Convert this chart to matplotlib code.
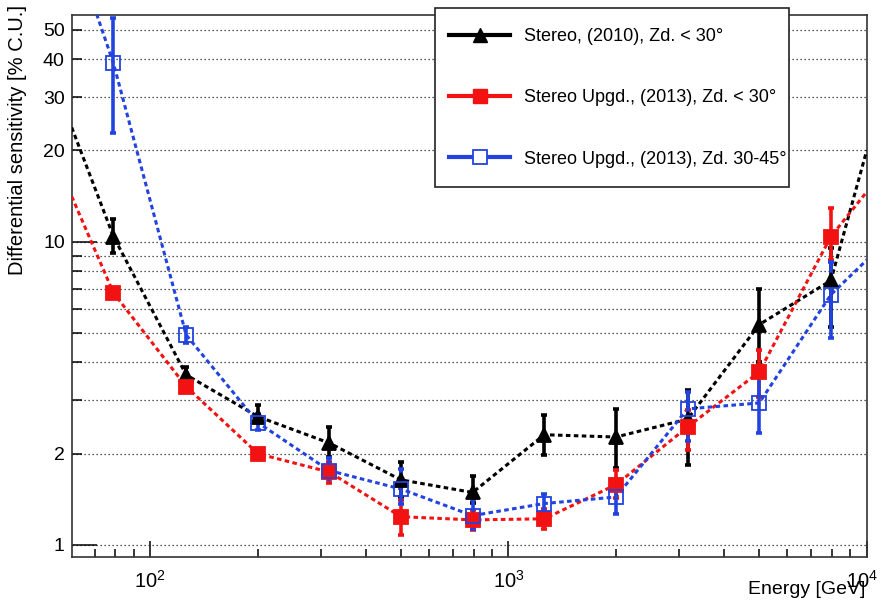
import matplotlib
matplotlib.use('Agg')
import matplotlib.pyplot as plt
from matplotlib.lines import Line2D
from matplotlib.patches import Rectangle
from matplotlib.transforms import ScaledTranslation
from matplotlib.ticker import FixedLocator, FuncFormatter, NullFormatter
import numpy as np

plt.rcParams['font.family'] = ['Liberation Sans', 'DejaVu Sans']
plt.rcParams['mathtext.fontset'] = 'custom'
plt.rcParams['mathtext.rm'] = 'Liberation Sans'
plt.rcParams['mathtext.it'] = 'Liberation Sans:italic'

# Centros de bin en energia [GeV]
energia = [79, 126, 200, 316, 501, 794, 1259, 1995, 3162, 5012, 7943]

# Stereo (2010), Zd. < 30
stereo_2010 = [10.4, 3.64, 2.65, 2.17, 1.64, 1.49, 2.31, 2.27, 2.6, 5.33, 7.45]
stereo_2010_min = [9.2, 3.46, 2.55, 1.95, 1.44, 1.38, 1.98, 1.79, 1.83, 4.0, 5.25]
stereo_2010_max = [11.9, 3.87, 2.9, 2.45, 1.88, 1.69, 2.69, 2.81, 3.25, 7.0, 9.5]

# Stereo Upgd. (2013), Zd. < 30
upgd_bajo = [6.78, 3.33, 2.0, 1.74, 1.24, 1.21, 1.22, 1.58, 2.45, 3.72, 10.4]
upgd_bajo_min = [6.6, 3.2, 1.95, 1.6, 1.08, 1.12, 1.13, 1.43, 2.06, 3.08, 8.7]
upgd_bajo_max = [7.0, 3.45, 2.05, 1.88, 1.41, 1.3, 1.31, 1.77, 2.79, 4.4, 12.9]

# Stereo Upgd. (2013), Zd. 30-45
upgd_medio = [38.7, 4.93, 2.53, 1.76, 1.53, 1.25, 1.37, 1.44, 2.81, 2.94, 6.69]
upgd_medio_min = [22.9, 4.64, 2.4, 1.65, 1.36, 1.13, 1.28, 1.27, 2.2, 2.34, 4.82]
upgd_medio_max = [54.5, 5.25, 2.7, 1.93, 1.78, 1.42, 1.47, 1.6, 3.2, 3.58, 8.6]

# Extremos de las curvas discontinuas (bordes del grafico)
xmin, xmax = 60.4, 1e4
ymin, ymax = 0.911, 55.9
extremos_2010 = (23.8, 20.0)
extremos_bajo = (14.1, 14.6)
extremos_medio = (98.0, 8.7)

etiquetas = ['Stereo, (2010), Zd. < 30\u00b0',
             'Stereo Upgd., (2013), Zd. < 30\u00b0',
             'Stereo Upgd., (2013), Zd. 30-45\u00b0']

ROJO = '#f21212'
AZUL = '#2243e0'


def dibujar_serie(ax, valores, vmin, vmax, extremos, color, marcador, relleno):
    x = np.array(energia, dtype=float)
    y = np.array(valores)
    yerr = [y - np.array(vmin), np.array(vmax) - y]
    # curva discontinua que une los puntos hasta los bordes
    xl = [xmin] + list(x) + [xmax]
    yl = [extremos[0]] + list(y) + [extremos[1]]
    ax.plot(xl, yl, ls=(0, (1.5, 1.1)), lw=2.2, color=color, zorder=3)
    ax.errorbar(x, y, yerr=yerr, fmt='none', ecolor=color, elinewidth=2.6,
                capsize=2, capthick=2.6, zorder=4)
    ax.plot(x, y, ls='none', marker=marcador, ms=9.8, color=color,
            mfc=relleno, mec=color, mew=1.3, zorder=5)


fig = plt.figure(figsize=(8.81, 6.06), dpi=100)
ax = fig.add_axes([0.0814, 0.0804, 0.9838 - 0.0814, 0.9752 - 0.0804])
ax.set_xscale('log')
ax.set_yscale('log')
ax.set_xlim(xmin, xmax)
ax.set_ylim(ymin, ymax)

dibujar_serie(ax, stereo_2010, stereo_2010_min, stereo_2010_max, extremos_2010, 'black', '^', 'black')
dibujar_serie(ax, upgd_bajo, upgd_bajo_min, upgd_bajo_max, extremos_bajo, ROJO, 's', ROJO)
dibujar_serie(ax, upgd_medio, upgd_medio_min, upgd_medio_max, extremos_medio, AZUL, 's', 'none')

# eje y: marcas estilo ROOT
ax.yaxis.set_major_locator(FixedLocator([1, 10]))
ax.yaxis.set_minor_locator(FixedLocator([2, 3, 4, 5, 6, 7, 8, 9, 20, 30, 40, 50]))
ax.yaxis.set_major_formatter(FuncFormatter(lambda v, p: '%g' % v))
ax.yaxis.set_minor_formatter(FuncFormatter(lambda v, p: '%g' % v if v in (2, 20, 30, 40, 50) else ''))
ax.tick_params(axis='y', which='major', direction='in', length=18, width=1.1, pad=5, labelsize=14)
ax.tick_params(axis='y', which='minor', direction='in', length=7, width=1.1, pad=5, labelsize=14)

# eje x
ax.xaxis.set_major_locator(FixedLocator([100, 1000, 10000]))
ax.xaxis.set_minor_locator(FixedLocator([70, 80, 90] + [k * 100 for k in range(2, 10)] + [k * 1000 for k in range(2, 10)]))
ax.xaxis.set_major_formatter(FuncFormatter(lambda v, p: '$10^{%d}$' % round(np.log10(v))))
ax.xaxis.set_minor_formatter(NullFormatter())
ax.tick_params(axis='x', which='major', direction='in', length=11.5, width=1.1, pad=9, labelsize=14.5)
ax.tick_params(axis='x', which='minor', direction='in', length=5.7, width=1.1)

# la etiqueta 10^4 queda pegada al borde derecho
fig.canvas.draw()
ultima = ax.xaxis.get_major_ticks()[-1].label1
ultima.set_transform(ultima.get_transform() + ScaledTranslation(-5 / 100, 0, fig.dpi_scale_trans))

ax.grid(axis='y', which='both', linestyle=(0, (1, 2.2)), color='#222222', lw=0.9)
ax.grid(axis='x', which='both', visible=False)
ax.set_axisbelow(True)
for lado in ax.spines.values():
    lado.set_linewidth(1.2)
    lado.set_color('#333333')

fig.text(18 / 881, 1 - 5 / 606, 'Differential sensitivity [% C.U.]', rotation=90,
         ha='center', va='top', fontsize=14.5)
fig.text(865 / 881, 1 - 590 / 606, 'Energy [GeV]', ha='right', va='center', fontsize=14)

# caja de la leyenda, por encima del marco
caja = Rectangle((435 / 881, 1 - 187 / 606), 354 / 881, 179 / 606, transform=fig.transFigure,
                 facecolor='white', edgecolor='#222222', lw=1.2, zorder=4)
fig.patches.append(caja)

manejadores = [
    Line2D([], [], color='black', lw=3, marker='^', ms=9.8, mfc='black'),
    Line2D([], [], color=ROJO, lw=3, marker='s', ms=9.8, mfc=ROJO),
    Line2D([], [], color=AZUL, lw=3, marker='s', ms=9.8, mfc='white', mec=AZUL, mew=1.3),
]
leyenda = fig.legend(manejadores, etiquetas, loc='center left',
                     bbox_to_anchor=(449 / 881, 1 - 98 / 606), fontsize=13,
                     handlelength=3.4, handletextpad=0.75, labelspacing=2.45,
                     borderpad=0, borderaxespad=0, frameon=False)
leyenda.set_zorder(5)

fig.savefig('out.png', dpi=100)
